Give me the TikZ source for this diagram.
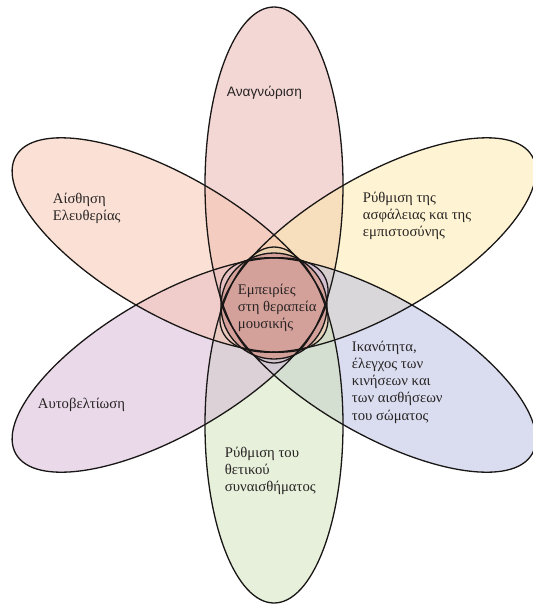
\documentclass[tikz,border=0pt]{standalone}
\usepackage{fontspec}
\setmainfont{Liberation Serif}
\newfontfamily\labelsans{Liberation Sans}

\begin{document}
\begin{tikzpicture}[x=1pt,y=1pt,yscale=-1,xscale=1,
  petalfill/.style={draw=none, fill opacity=0.5},
  outline/.style={draw={rgb, 255:red, 25; green, 22; blue, 22 }, line width=1.3},
  label/.style={anchor=north west, inner sep=0.75pt, align=left, font=\fontsize{14.7}{17.2}\selectfont, text={rgb, 255:red, 40; green, 36; blue, 36 }}]
	\useasboundingbox (0,0) rectangle (533,606);
	\clip (0,0) rectangle (533,606);
	%Shape: Ellipse [top petal]
	\fill [petalfill, fill={rgb, 255:red, 231; green, 175; blue, 171 }] (274,185) ellipse [x radius=178, y radius=69, rotate=90];
	%Shape: Ellipse [upper right petal]
	\fill [petalfill, fill={rgb, 255:red, 253; green, 233; blue, 167 }] (377.9,245) ellipse [x radius=178, y radius=69, rotate=-30];
	%Shape: Ellipse [lower right petal]
	\fill [petalfill, fill={rgb, 255:red, 181; green, 187; blue, 225 }] (377.9,365) ellipse [x radius=178, y radius=69, rotate=30];
	%Shape: Ellipse [bottom petal]
	\fill [petalfill, fill={rgb, 255:red, 207; green, 225; blue, 181 }] (274,425) ellipse [x radius=178, y radius=69, rotate=90];
	%Shape: Ellipse [lower left petal]
	\fill [petalfill, fill={rgb, 255:red, 211; green, 179; blue, 211 }] (170.1,365) ellipse [x radius=178, y radius=69, rotate=-30];
	%Shape: Ellipse [upper left petal]
	\fill [petalfill, fill={rgb, 255:red, 247; green, 195; blue, 171 }] (170.1,245) ellipse [x radius=178, y radius=69, rotate=30];
	%Shape: Circle [centre]
	\fill [fill={rgb, 255:red, 212; green, 160; blue, 154 }] (274,306) circle [radius=53];

	%Outlines
	\draw [outline] (274,185) ellipse [x radius=178, y radius=69, rotate=90];
	\draw [outline] (377.9,245) ellipse [x radius=178, y radius=69, rotate=-30];
	\draw [outline] (377.9,365) ellipse [x radius=178, y radius=69, rotate=30];
	\draw [outline] (274,425) ellipse [x radius=178, y radius=69, rotate=90];
	\draw [outline] (170.1,365) ellipse [x radius=178, y radius=69, rotate=-30];
	\draw [outline] (170.1,245) ellipse [x radius=178, y radius=69, rotate=30];
	\draw [outline] (274,306) circle [radius=53];

	% Text Node
	\draw (226,85) node [label, font=\labelsans\fontsize{13.7}{16}\selectfont] (recognition) {Αναγνώριση};
	% Text Node
	\draw (52,192) node [label] (freedom) {Αίσθηση\\Ελευθερίας};
	% Text Node
	\draw (362,191) node [label] (safety) {Ρύθμιση της\\ασφάλειας και της\\εμπιστοσύνης};
	% Text Node
	\draw (237,283) node [label] (experience) {Εμπειρίες\\στη θεραπεία\\μουσικής};
	% Text Node
	\draw (351,340) node [label] (ability) {Ικανότητα,\\έλεγχος των\\κινήσεων και\\των αισθήσεων\\του σώματος};
	% Text Node
	\draw (37,397) node [label] (selfimprove) {Αυτοβελτίωση};
	% Text Node
	\draw (224,446) node [label] (positive) {Ρύθμιση του\\θετικού\\συναισθήματος};

\end{tikzpicture}
\end{document}
